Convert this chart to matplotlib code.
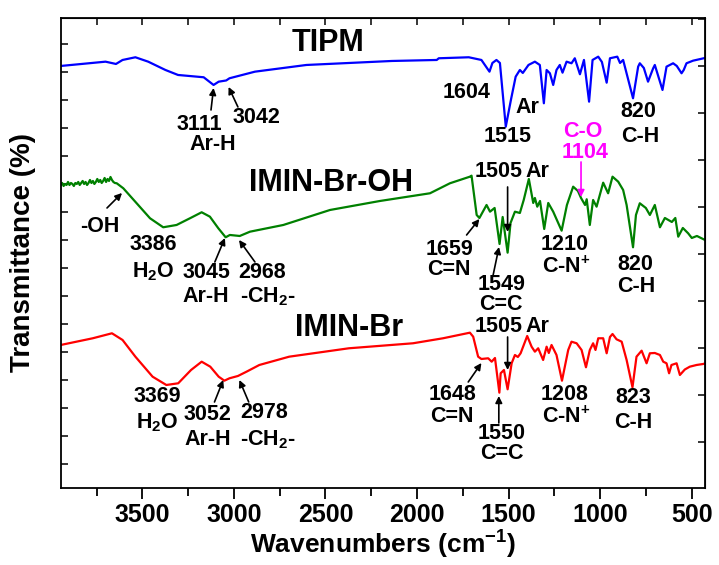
import matplotlib
matplotlib.use("Agg")
import matplotlib.pyplot as plt
from matplotlib import font_manager
from matplotlib.ticker import FixedLocator, NullFormatter

available = {f.name for f in font_manager.fontManager.ttflist}
FAM = "Liberation Sans Narrow" if "Liberation Sans Narrow" in available else "Liberation Sans"
plt.rcParams["font.family"] = [FAM, "DejaVu Sans"]
plt.rcParams["font.weight"] = "bold"
plt.rcParams["mathtext.fontset"] = "custom"
plt.rcParams["mathtext.rm"] = FAM + ":bold"
plt.rcParams["mathtext.it"] = FAM + ":bold"
plt.rcParams["mathtext.bf"] = FAM + ":bold"

# ---- spectra (wavenumber in cm-1, transmittance in a.u., curves stacked) ----
tipm_wn = [3946, 3701, 3644, 3608, 3538, 3468, 3374, 3305, 3165, 3111, 3083, 3042, 3024,
           2885, 2604, 2137, 1892, 1881, 1717, 1648, 1604, 1588, 1566, 1547, 1515, 1487,
           1461, 1438, 1422, 1391, 1356, 1329, 1307, 1292, 1274, 1256, 1238, 1220, 1205,
           1183, 1156, 1138, 1110, 1088, 1060, 1041, 1010, 990, 964, 946, 906, 891, 874,
           820, 792, 783, 761, 738, 710, 701, 659, 637, 601, 581, 555, 543, 528, 492, 427]
tipm_t = [422, 426.3, 424, 428, 430.7, 426.3, 418, 413, 410.7, 403, 406.3, 407.5, 409.7,
          416.3, 423, 427, 428, 429.7, 430.7, 428, 416.3, 425, 428, 425, 361.3, 388,
          411.3, 418, 415, 423, 426.3, 423, 384.7, 418, 414.7, 403, 418, 423, 415.3,
          426.3, 424.7, 429.7, 413.7, 428, 386.3, 428, 431.3, 426, 405.3, 429.7, 431.3, 425, 428,
          389.7, 421.3, 424.7, 420, 406.3, 419.7, 423, 398, 421.3, 424.7, 422, 414.7, 418, 424.7, 427.3, 430]

imin_oh_wn = [3946, 3938, 3930, 3922, 3914, 3906, 3898, 3890, 3882, 3874, 3866, 3858, 3850,
              3842, 3834, 3826, 3818, 3810, 3802, 3794, 3786, 3778, 3770, 3762, 3754, 3746,
              3738, 3730, 3722, 3714, 3706, 3698, 3690, 3682, 3674, 3666, 3658, 3650,
              3640, 3604, 3531, 3458, 3386, 3313, 3240, 3176, 3131, 3085, 3045, 3022, 2968,
              2912, 2730, 2475, 2202, 1929, 1820, 1711, 1702, 1674, 1659, 1620, 1601, 1576,
              1549, 1532, 1505, 1489, 1465, 1438, 1417, 1389, 1365, 1356, 1343, 1328, 1305,
              1283, 1256, 1210, 1181, 1147, 1121, 1104, 1082, 1073, 1056, 1038, 1019, 983,
              956, 932, 901, 874, 855, 820, 804, 783, 750, 728, 701, 673, 646, 608, 589,
              573, 548, 519, 499, 471, 427]
imin_oh_t = [303, 305, 302, 304, 303, 306, 303, 305, 304, 302, 305, 304, 306,
             303, 305, 307, 304, 306, 303, 305, 308, 305, 307, 304, 306, 309,
             306, 308, 305, 307, 310, 306, 309, 307, 311, 308, 306, 305,
             304.7, 299.7, 284.7, 269.7, 260.7, 263, 269.7, 275.7, 271.3, 259.7, 250.7, 253, 252,
             256.3, 263, 278, 287, 294.7, 304.7, 311.3, 312.3, 273, 270, 283, 276.3, 280,
             244, 271, 235.3, 265, 276.3, 275, 288, 309, 285, 290, 281.3, 287, 259,
             285, 276.3, 257.3, 283, 301.3, 297, 290, 283, 288.7, 263, 288, 281.3, 305.3,
             294.7, 311.3, 306.3, 298, 283, 240.7, 273, 284.7, 280, 273, 283, 260.7, 270, 266, 270,
             251.3, 260, 254.7, 250, 252, 248]

imin_br_wn = [3946, 3771, 3666, 3608, 3538, 3444, 3369, 3304, 3234, 3176, 3129, 3083, 3052,
              3024, 2978, 2931, 2861, 2698, 2372, 2022, 1858, 1711, 1693, 1666, 1648, 1611,
              1592, 1574, 1550, 1543, 1525, 1505, 1483, 1465, 1449, 1434, 1398, 1374, 1356,
              1338, 1311, 1292, 1280, 1265, 1238, 1208, 1174, 1156, 1128, 1101, 1077, 1056,
              1038, 1025, 1010, 983, 964, 946, 932, 910, 882, 855, 823, 801, 773, 746, 728,
              701, 673, 655, 637, 623, 610, 582, 564, 537, 510, 473, 437, 427]
imin_br_t = [143, 149.7, 154.7, 148, 131.3, 111.3, 103, 104.7, 118, 126.3, 121.3, 111.3, 107.3,
             109.7, 112, 116.3, 123, 131.3, 139.7, 144.7, 149.7, 155.3, 151.3, 131.3, 129, 129.7,
             126.3, 130, 95.3, 114.7, 118, 98.7, 124.7, 133, 131, 134.7, 152, 141.3, 136.3,
             139.7, 128, 141.3, 135, 143, 133, 107.3, 138, 146.3, 144.7, 138, 120.7, 138,
             144.7, 138, 149.7, 149.7, 134.7, 151, 154, 148.7, 146.3, 128, 100.7, 131.3, 137.3, 124.7, 134.7,
             135, 133, 126.3, 124.7, 114.7, 123, 124.7, 113, 118.5, 121.3, 123, 124, 124.5]

x_major = [3500, 3000, 2500, 2000, 1500, 1000, 500]
x_minor = [3750, 3250, 2750, 2250, 1750, 1250, 750]

fig = plt.figure(figsize=(7.19, 5.65), dpi=100)
ax = fig.add_axes([0.0844, 0.1363, 0.8961, 0.8319])

ax.plot(tipm_wn, tipm_t, color="#0000ff", lw=1.6)
ax.plot(imin_oh_wn, imin_oh_t, color="#008000", lw=1.6)
ax.plot(imin_br_wn, imin_br_t, color="#ff0000", lw=1.6)

ax.set_xlim(3946, 427)
ax.set_ylim(0, 470)

for s in ax.spines.values():
    s.set_linewidth(1.3)

ax.xaxis.set_major_locator(FixedLocator(x_major))
ax.xaxis.set_minor_locator(FixedLocator(x_minor))
ax.tick_params(axis="x", which="major", direction="out", length=8, width=1.3,
               labelsize=18, pad=3)
ax.tick_params(axis="x", which="minor", direction="out", length=6, width=1.3)
ax.yaxis.set_major_locator(FixedLocator(list(range(24, 470, 28))))
ax.yaxis.set_major_formatter(NullFormatter())
ax.tick_params(axis="y", which="major", direction="in", length=5, width=1.1)

top = ax.secondary_xaxis("top")
top.set_xticks(x_major)
top.xaxis.set_minor_locator(FixedLocator(x_minor))
top.tick_params(which="both", direction="in", length=5, width=1.1, labeltop=False)
right = ax.secondary_yaxis("right")
right.set_yticks(list(range(46, 470, 47)))
right.tick_params(direction="in", length=5, width=1.1, labelright=False)

ax.set_xlabel("Wavenumbers (cm$^{-1}$)", fontsize=19, fontweight="bold", labelpad=1)
ax.set_ylabel("Transmittance (%)", fontsize=20, fontweight="bold", labelpad=14)

big = dict(fontsize=22, fontweight="bold", ha="center", va="center")
ax.text(2488, 445, "TIPM", **big)
ax.text(2470, 305, "IMIN-Br-OH", **big)
ax.text(2372, 160, "IMIN-Br", **big)

lab = dict(fontsize=15.5, fontweight="bold", ha="center", va="center")
arrow = dict(arrowstyle="-|>", color="black", lw=1.2, mutation_scale=10,
             shrinkA=0, shrinkB=0)


def note(x, y, s, color="black"):
    ax.text(x, y, s, color=color, **lab)


def point(tail, head, color="black"):
    a = dict(arrow)
    a["color"] = color
    ax.annotate("", xy=head, xytext=tail, arrowprops=a)


# TIPM
note(1729, 395, "1604")
note(3188, 363, "3111")
note(2874, 370, "3042")
note(3114, 343, "Ar-H")
point((3125, 378), (3111, 400))
point((2978, 381), (3029, 401))
note(1395, 380, "Ar")
note(1504, 351, "1515")
note(792, 376, "820")
note(783, 351, "C-H")
note(1092, 356, "C-O", color="#ff00ff")
note(1083, 335, "1104", color="#ff00ff")
point((1104, 326), (1104, 291), color="#ff00ff")

# IMIN-Br-OH
note(3731, 261, "-OH")
point((3693, 280), (3611, 295))
note(3440, 243, "3386")
note(3442, 216, "H$_2$O")
note(3149, 215, "3045")
point((3104, 226), (3049, 250))
note(2848, 215, "2968")
point((2885, 226), (2972, 248))
note(3153, 191, "Ar-H")
note(2814, 191, "-CH$_2$-")
note(1825, 238, "1659")
note(1825, 218, "C=N")
point((1729, 253), (1659, 269))
note(1540, 203, "1549")
note(1540, 183, "C=C")
point((1584, 213), (1552, 241))
note(1555, 316, "1505")
note(1340, 316, "Ar")
point((1505, 301), (1505, 256))
note(1195, 243, "1210")
note(1183, 221, "C-N$^{+}$")
note(807, 223, "820")
note(801, 201, "C-H")

# IMIN-Br
note(3421, 91, "3369")
note(3421, 65, "H$_2$O")
note(3142, 73, "3052")
point((3106, 86), (3058, 108))
note(2837, 75, "2978")
point((2919, 86), (2970, 108))
note(3142, 48, "Ar-H")
note(2814, 48, "-CH$_2$-")
note(1807, 93, "1648")
note(1807, 71, "C=N")
point((1720, 106), (1648, 125))
note(1535, 54, "1550")
note(1535, 34, "C=C")
point((1553, 65), (1553, 92))
note(1555, 161, "1505")
note(1340, 161, "Ar")
point((1505, 151), (1505, 118))
note(1195, 93, "1208")
note(1183, 71, "C-N$^{+}$")
note(819, 90, "823")
note(819, 65, "C-H")

fig.savefig("out.png", dpi=100)
